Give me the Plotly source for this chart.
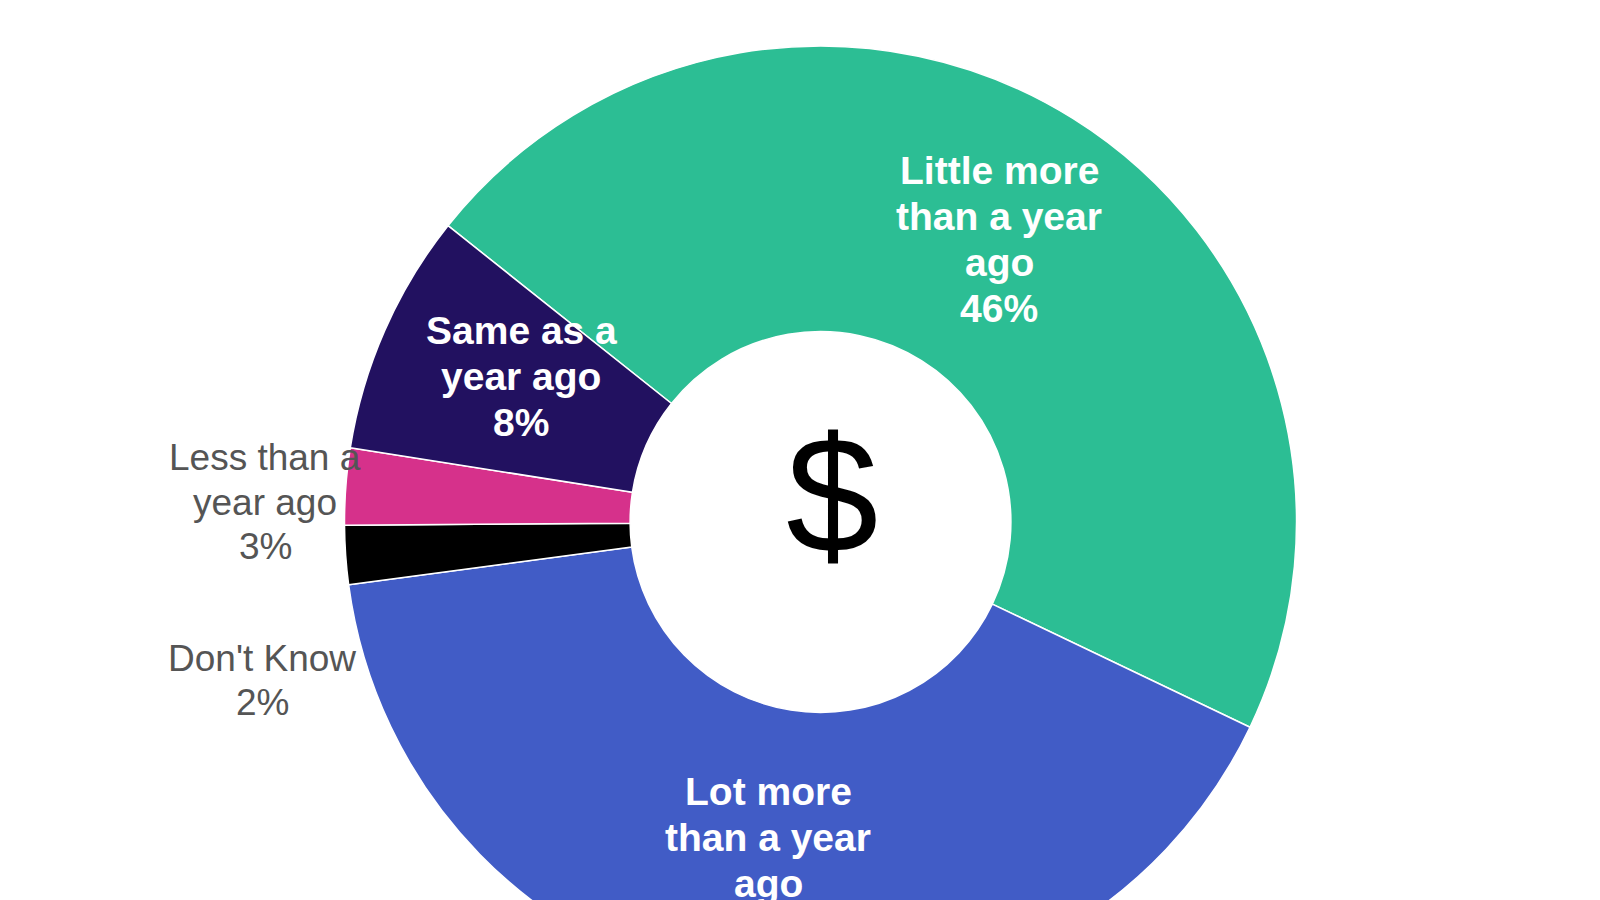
import math
import plotly.graph_objects as go

# ---- data ----
labels = ["Little more than a year ago", "Lot more than a year ago", "Don't Know",
          "Less than a year ago", "Same as a year ago"]
label_lines = [["Little more", "than a year", "ago"],
               ["Lot more", "than a year", "ago"],
               ["Don't Know"],
               ["Less than a", "year ago"],
               ["Same as a", "year ago"]]
values = [46.4, 40.8, 2.0, 2.6, 8.2]
colors = ["#2CBE94", "#415CC6", "#000000", "#D6318B", "#221160"]
inside = [True, True, False, False, True]
center_symbol = "$"

# ---- layout geometry (pixels) ----
W, H = 1600, 1010
CX, CY, R = 820.5, 522.0, 476.0
HOLE = 0.40
ROT = -51.5
FONT = "Arial, Liberation Sans, sans-serif"

dom_x = [(CX - R) / W, (CX + R) / W]
dom_y = [1 - (CY + R) / H, 1 - (CY - R) / H]

fig = go.Figure(go.Pie(
    labels=labels,
    values=values,
    sort=False,
    direction="clockwise",
    rotation=ROT,
    hole=HOLE,
    marker=dict(colors=colors, line=dict(color="white", width=1.5)),
    textinfo="none",
    hoverinfo="skip",
    showlegend=False,
    domain=dict(x=dom_x, y=dom_y),
))

annotations = []


def add_block(lines, cx, cy, size, spacing, color, bold):
    n = len(lines)
    for i, ln in enumerate(lines):
        y = cy + (i - (n - 1) / 2) * spacing
        annotations.append(dict(
            x=cx / W, y=1 - y / H, xref="paper", yref="paper",
            text=f"<b>{ln}</b>" if bold else ln, showarrow=False,
            font=dict(family=FONT, size=size, color=color),
            xanchor="center", yanchor="middle",
        ))


total = sum(values)
cum = 0.0
rmid = R * (1 + HOLE) / 2
# small label nudges (pixels) to mimic the original label placement
nudge = {0: (2, 0), 1: (0, 9), 4: (6, -11)}
# outside labels for the small slices, placed at the left of the ring
outside_pos = {2: (262, 680), 3: (265, 502)}
for i, (lines, v, ins) in enumerate(zip(label_lines, values, inside)):
    mid = math.radians(ROT + (cum + v / 2) / total * 360)
    cum += v
    pct = f"{round(v / total * 100)}%"
    if ins:
        dx, dy = nudge.get(i, (0, 0))
        px = CX + rmid * math.sin(mid) + dx
        py = CY - rmid * math.cos(mid) + dy
        add_block(lines + [pct], px, py, 39, 45.9, "white", True)
    else:
        px, py = outside_pos[i]
        add_block(lines + [pct], px, py, 37, 44.0, "#555555", False)

annotations.append(dict(
    x=832 / W, y=1 - 494 / H, xref="paper", yref="paper",
    text=center_symbol, showarrow=False,
    font=dict(family=FONT, size=166, color="black"),
    xanchor="center", yanchor="middle",
))

fig.update_layout(
    width=W, height=H,
    margin=dict(l=0, r=0, t=0, b=0),
    paper_bgcolor="white", plot_bgcolor="white",
    annotations=annotations,
)

fig.write_html(
    "out.html",
    config={"displayModeBar": False},
    post_script="document.body.style.margin='0';document.body.style.overflow='hidden';document.documentElement.style.overflow='hidden';",
)
